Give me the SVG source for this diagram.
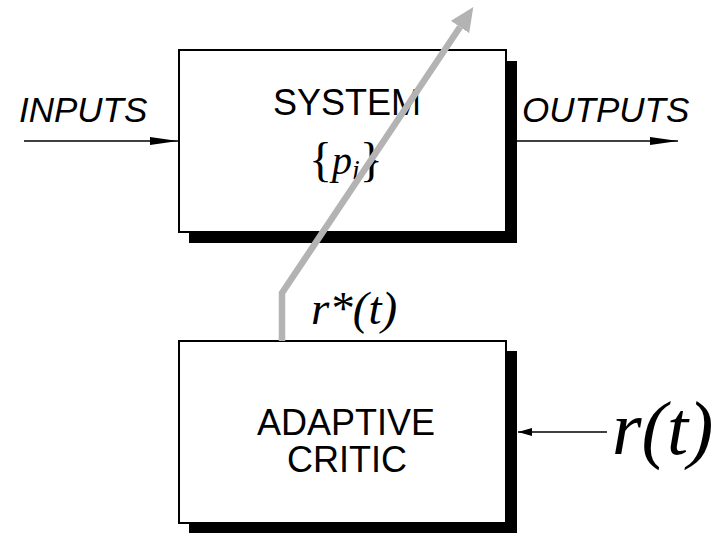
<svg xmlns="http://www.w3.org/2000/svg" width="715" height="533" viewBox="0 0 715 533">
<style>
.box{fill:#fff;stroke:#000;stroke-width:2}
.shadow{fill:#000}
.sans{font-family:"Liberation Sans",Arial,sans-serif;fill:#000}
.serif{font-family:"Liberation Serif","Times New Roman",serif;fill:#000}
.wire{stroke:#000;stroke-width:1.5;fill:none}
</style>
<defs>
<marker id="ah" markerUnits="userSpaceOnUse" viewBox="0 0 28 8" refX="28" refY="4" markerWidth="28" markerHeight="8" orient="auto">
<path d="M0,0 L28,4 L0,8 z" fill="#000"/>
</marker>
<marker id="ahs" markerUnits="userSpaceOnUse" viewBox="0 0 14 8" refX="14" refY="4" markerWidth="14" markerHeight="8" orient="auto">
<path d="M0,0 L14,4 L0,8 z" fill="#000"/>
</marker>
<marker id="gh" markerUnits="userSpaceOnUse" viewBox="0 0 24 22" refX="0" refY="11" markerWidth="24" markerHeight="22" orient="auto">
<path d="M0,0 L24,11 L0,22 z" fill="#b3b3b3"/>
</marker>
</defs>
<g id="system">
<rect class="shadow" x="189" y="61" width="328" height="182"/>
<rect class="box" x="179" y="50" width="327" height="182"/>
<text class="sans" x="347" y="115" font-size="36" text-anchor="middle">SYSTEM</text>
<text class="serif" x="309" y="176" font-size="48">{<tspan font-style="italic" font-size="40" dy="-2">p</tspan><tspan font-style="italic" font-size="28" dy="5">i</tspan><tspan dy="-3">}</tspan></text>
</g>
<g id="critic">
<rect class="shadow" x="189" y="351" width="328" height="182"/>
<rect class="box" x="179" y="341" width="327" height="182"/>
<text class="sans" x="346" y="435" font-size="36" text-anchor="middle">ADAPTIVE</text>
<text class="sans" x="347" y="472" font-size="36" text-anchor="middle">CRITIC</text>
</g>
<g id="labels">
<text class="sans" x="19" y="122" font-size="35" font-style="italic">INPUTS</text>
<text class="sans" x="522" y="122" font-size="35" font-style="italic">OUTPUTS</text>
<text class="serif" x="311" y="324" font-size="47" font-style="italic">r*(t)</text>
<text class="serif" x="612" y="454" font-size="76" font-style="italic">r(t)</text>
</g>
<g id="connectors">
<line class="wire" x1="24" y1="141" x2="178" y2="141" marker-end="url(#ah)"/>
<line class="wire" x1="517" y1="141" x2="678" y2="141" marker-end="url(#ah)"/>
<line class="wire" x1="607" y1="432" x2="518" y2="432" marker-end="url(#ahs)"/>
<path d="M282 341 L282 293 L460 27" fill="none" stroke="#b3b3b3" stroke-width="6.5" stroke-linejoin="miter" marker-end="url(#gh)"/>
</g>
</svg>
